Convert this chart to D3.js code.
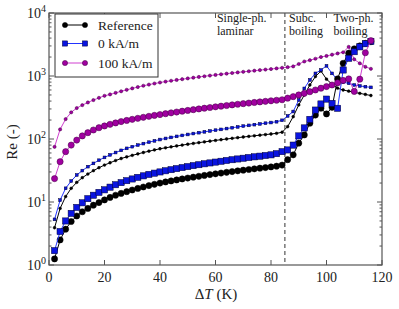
<!DOCTYPE html>
<html><head><meta charset="utf-8">
<script src="https://cdn.jsdelivr.net/npm/d3@7"></script>
<style>body{margin:0;background:#fff} svg{display:block} svg text{font-family:Liberation Serif, DejaVu Serif, Times New Roman, serif !important;}</style>
</head><body><svg id="c" width="399" height="309"></svg>
<script>
const dT = [2,4,6,8,10,12,14,16,18,20,22,24,26,28,30,32,34,36,38,40,42,44,46,48,50,52,54,56,58,60,62,64,66,68,70,72,74,76,78,80,82,84,86,88,90,92,94,96,98,100,102,104,106,108,110,112,114,116];
const refBig = [1.25,2.5,3.7,4.9,6.0,7.0,7.9,8.9,9.8,10.8,
 11.8,12.8,13.7,14.6,15.5,16.4,17.3,18.2,19.1,20.0,
 20.8,21.6,22.4,23.2,24.0,24.8,25.6,26.4,27.2,28.0,
 28.8,29.6,30.4,31.2,32.0,32.8,33.6,34.4,35.2,36.0,37.0,38.5,
 47,56,86,116,178,240,308,250,318,900,1590,2300,2700,3000,3300,3500];
const zeroBig = [1.69,3.4,5.0,6.6,8.2,9.7,11.3,12.8,14.2,15.6,
 17.2,18.8,20.3,21.8,23.2,24.6,26.0,27.4,28.7,30.0,
 31.3,32.6,33.9,35.2,36.5,37.8,39.1,40.4,41.7,43.0,
 44.3,45.6,46.9,48.2,49.5,50.8,52.1,53.4,54.7,56.0,58.5,63,
 67,80,112,150,205,288,360,430,368,307,1245,1910,2430,2900,3250,3550];
const hundredBig = [23.5,43.6,63,80,96,112,126,139,151,161,
 171,180,189,197,205,213,221,229,237,244,
 252,260,268,276,284,292,300,308,316,324,
 332,340,348,356,364,372,380,388,396,404,412,420,
 445,470,500,530,563,600,640,680,720,780,850,900,570,890,2340,3640];
const refSmall = [3.9,7.9,12.2,16.5,20.5,24.3,27.8,31.4,35.0,38.6,
 42,45.5,49,52,55,58,61,64,67,70,
 72.5,75,77.5,80,82.5,85,87.5,90,92.5,95,
 97.5,100,102.5,105,107.5,110,112.5,115,117.5,120,123,128,
 157,226,347,500,720,980,1200,890,740,640,600,575,550,530,510,490];
const zeroSmall = [5.3,10.7,16.5,21.5,26.8,31.5,36.4,41,46,51,
 56,61,66,71,75.5,80,84.5,89,93.5,98,
 102,106,110,114,118,122,126,130,134,138,
 142,146.5,151,155.5,160,164.5,169,173.5,178,182.5,188,198,
 232,273,415,635,867,1100,1245,1450,1100,860,795,765,720,695,677,660];
const hundredSmall = [75,142,207,265,310,345,380,415,450,485,
 510,540,572,604,636,668,700,730,760,788,
 815,840,865,890,915,940,965,990,1015,1040,
 1065,1090,1115,1140,1165,1190,1215,1240,1265,1290,1320,1350,
 1380,1420,1550,1700,1780,1880,2000,2080,2180,2280,2380,2900,1840,1590,1400,1300];
const legendLabels = ["Reference","0 kA/m","100 kA/m"];
const xTicks = [0,20,40,60,80,100,120];
const yTicks = [1,10,100,1000,10000];
const yExp = ["0","1","2","3","4"];
const annotations = [["Single-ph.","laminar"],["Subc.","boiling"],["Two-ph.","boiling"]];
const annotX = [60.5,86.5,102.5];
const boundary = 85;

const svg = d3.select("#c");
const L=49,R=382,T=13,B=265;
const x = d3.scaleLinear().domain([0,120]).range([L,R]);
const y = d3.scaleLog().domain([1,10000]).range([B,T]);

svg.append("line").attr("x1",x(boundary)).attr("x2",x(boundary)).attr("y1",T).attr("y2",B)
  .attr("stroke","#555").attr("stroke-width",1.2).attr("stroke-dasharray","4,3");

const styles = {
  ref:{line:"#000",fill:"#000",edge:"#000"},
  zero:{line:"#2233ff",fill:"#0a14e0",edge:"#000033"},
  hund:{line:"#d040d0",fill:"#a000a0",edge:"#400040"}
};
const series = [
  {v:refSmall,s:styles.ref,shape:"circle",r:1.4},
  {v:zeroSmall,s:styles.zero,shape:"square",r:1.4},
  {v:hundredSmall,s:styles.hund,shape:"circle",r:1.6},
  {v:refBig,s:styles.ref,shape:"circle",r:3.1},
  {v:zeroBig,s:styles.zero,shape:"square",r:3.1},
  {v:hundredBig,s:styles.hund,shape:"circle",r:3.1}
];
const line = d3.line().x(d=>x(d[0])).y(d=>y(d[1]));
function marker(g,shape,cx,cy,r,s){
  if(shape==="circle") g.append("circle").attr("cx",cx).attr("cy",cy).attr("r",r).attr("fill",s.fill).attr("stroke",s.edge).attr("stroke-width",0.5);
  else g.append("rect").attr("x",cx-r).attr("y",cy-r).attr("width",2*r).attr("height",2*r).attr("fill",s.fill).attr("stroke",s.edge).attr("stroke-width",0.5);
}
const plot = svg.append("g");
series.forEach(se=>{
  const pts = dT.map((t,i)=>[t,se.v[i]]);
  plot.append("path").attr("d",line(pts)).attr("fill","none").attr("stroke",se.s.line).attr("stroke-width",1);
  const g = plot.append("g");
  pts.forEach(p=>marker(g,se.shape,x(p[0]),y(p[1]),se.r,se.s));
});

svg.append("rect").attr("x",L).attr("y",T).attr("width",R-L).attr("height",B-T).attr("fill","none").attr("stroke","#555").attr("stroke-width",1.2);
const ax = svg.append("g").attr("fill","#222");
xTicks.forEach(t=>{
  ax.append("line").attr("x1",x(t)).attr("x2",x(t)).attr("y1",B).attr("y2",B-5).attr("stroke","#555");
  ax.append("line").attr("x1",x(t)).attr("x2",x(t)).attr("y1",T).attr("y2",T+5).attr("stroke","#555");
  ax.append("text").attr("x",x(t)).attr("y",B+17).attr("text-anchor","middle").attr("font-size",14).text(t);
});
yTicks.forEach((t,i)=>{
  ax.append("line").attr("x1",L).attr("x2",L+5).attr("y1",y(t)).attr("y2",y(t)).attr("stroke","#555");
  ax.append("line").attr("x1",R).attr("x2",R-5).attr("y1",y(t)).attr("y2",y(t)).attr("stroke","#555");
  const tx = ax.append("text").attr("x",L-3).attr("y",y(t)+5).attr("text-anchor","end").attr("font-size",14).text("10");
  tx.append("tspan").attr("dy",-6).attr("font-size",10).text(yExp[i]);
  if(i<yTicks.length-1){
    for(let m=2;m<10;m++){
      const v=t*m;
      ax.append("line").attr("x1",L).attr("x2",L+2.5).attr("y1",y(v)).attr("y2",y(v)).attr("stroke","#555");
      ax.append("line").attr("x1",R).attr("x2",R-2.5).attr("y1",y(v)).attr("y2",y(v)).attr("stroke","#555");
    }
  }
});
const xl = svg.append("text").attr("x",216).attr("y",299).attr("text-anchor","middle").attr("font-size",15).attr("fill","#222");
xl.append("tspan").text("Δ");
xl.append("tspan").attr("font-style","italic").text("T");
xl.append("tspan").text(" (K)");
svg.append("text").attr("transform","translate(17,142) rotate(-90)").attr("text-anchor","middle").attr("font-size",15).attr("fill","#222").text("Re (-)");

annotations.forEach((a,i)=>{
  svg.append("text").attr("x",x(annotX[i])).attr("y",21.5).attr("font-size",12).attr("fill","#222").text(a[0]);
  svg.append("text").attr("x",x(annotX[i])).attr("y",35).attr("font-size",12).attr("fill","#222").text(a[1]);
});

const lg = svg.append("g");
lg.append("rect").attr("x",55).attr("y",14).attr("width",103).attr("height",63).attr("fill","#fff").attr("stroke","#333").attr("stroke-width",1);
const lgStyles=[styles.ref,styles.zero,styles.hund];
const lgShapes=["circle","square","circle"];
const lgY=[25,43.5,63];
legendLabels.forEach((lab,i)=>{
  lg.append("line").attr("x1",65).attr("x2",85).attr("y1",lgY[i]).attr("y2",lgY[i]).attr("stroke",lgStyles[i].line).attr("stroke-width",1);
  marker(lg,lgShapes[i],65,lgY[i],2.6,lgStyles[i]);
  marker(lg,lgShapes[i],85,lgY[i],2.6,lgStyles[i]);
  lg.append("text").attr("x",98).attr("y",lgY[i]+4.5).attr("font-size",13.5).attr("fill","#222").text(lab);
});
</script></body></html>
